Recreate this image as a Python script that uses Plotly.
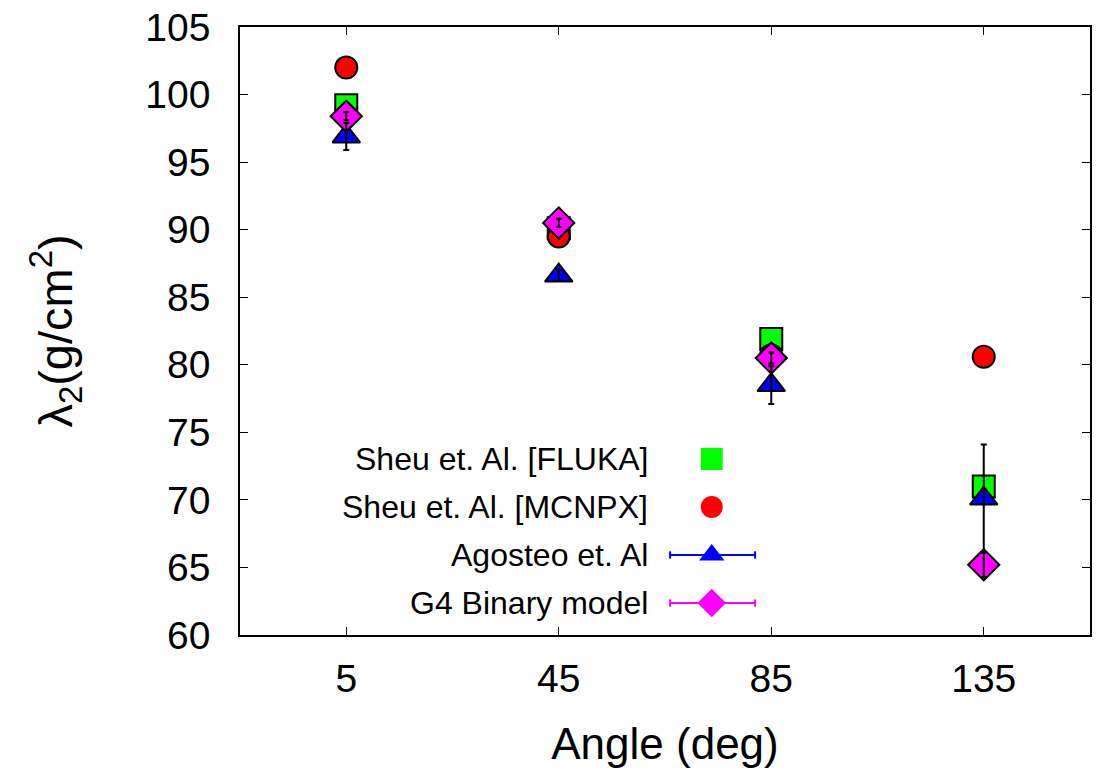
import plotly.graph_objects as go

categories = ["5", "45", "85", "135"]
fluka = [99.2, 90.1, 81.9, 71.0]
mcnpx = [102.0, 89.5, 80.7, 80.6]
agosteo = [96.9, 86.6, 78.5, 70.1]
agosteo_err = [1.0, 0.4, 1.4, 4.0]
g4 = [98.4, 90.5, 80.5, 65.2]
g4_err = [0.3, 0.3, 0.4, 0.9]
names = ["Sheu et. Al. [FLUKA]", "Sheu et. Al. [MCNPX]", "Agosteo et. Al", "G4 Binary model"]
colors = ["#00ff00", "#ff0000", "#0000ff", "#ff00ff"]
symbols = ["square", "circle", "triangle-up", "diamond"]

FONT = "Liberation Sans, Arial, Helvetica, sans-serif"
xpos = list(range(len(categories)))

fig = go.Figure()
series = [fluka, mcnpx, agosteo, g4]
sizes = [22, 22, 24, 24]
for vals, nm, col, sym, sz in zip(series, names, colors, symbols, sizes):
    fig.add_trace(go.Scatter(
        x=xpos, y=vals, mode="markers", name=nm, showlegend=False,
        marker=dict(symbol=sym, size=sz, color=col, line=dict(color="black", width=2)),
    ))

# error bars drawn on top of markers
for vals, err in [(agosteo, agosteo_err), (g4, g4_err)]:
    fig.add_trace(go.Scatter(
        x=xpos, y=vals, mode="markers", showlegend=False,
        marker=dict(size=1, opacity=0),
        error_y=dict(type="data", array=err, visible=True, color="black", thickness=2, width=3),
    ))

# manual legend (text left, sample right, like gnuplot)
leg_y_paper = [0.2895, 0.2105, 0.1316, 0.0526]
leg_x_text = 0.482
leg_x_mark = 0.555
for nm, yp in zip(names, leg_y_paper):
    fig.add_annotation(text=nm, xref="paper", yref="paper", x=leg_x_text, y=yp,
                       xanchor="right", yanchor="middle", showarrow=False,
                       font=dict(family=FONT, size=32, color="black"))
for col, yp in zip(colors[2:], leg_y_paper[2:]):
    fig.add_shape(type="line", xref="paper", yref="paper", x0=0.506, x1=0.606, y0=yp, y1=yp,
                  line=dict(color=col, width=2))
    for xc in (0.506, 0.606):
        fig.add_shape(type="line", xref="paper", yref="paper", x0=xc, x1=xc,
                      y0=yp - 0.006, y1=yp + 0.006, line=dict(color=col, width=2))
y0r, y1r = 60, 105
x0r, x1r = -0.5, 3.5
for col, sym, yp in zip(colors, symbols, leg_y_paper):
    fig.add_trace(go.Scatter(
        x=[x0r + leg_x_mark * (x1r - x0r)], y=[y0r + yp * (y1r - y0r)],
        mode="markers", showlegend=False, hoverinfo="skip",
        marker=dict(symbol=sym, size=22, color=col, line=dict(width=0)),
    ))

axis_common = dict(
    showline=True, linecolor="black", linewidth=1.5, mirror="ticks",
    ticks="inside", ticklen=8, tickwidth=1.2, tickcolor="black",
    showgrid=False, zeroline=False, automargin=False,
    tickfont=dict(family=FONT, size=39, color="black"),
)
fig.update_xaxes(range=[x0r, x1r], tickvals=xpos, ticktext=categories, ticklabelstandoff=8,
                 title=dict(text="Angle (deg)", font=dict(family=FONT, size=44, color="black"), standoff=30),
                 **axis_common)
fig.update_yaxes(range=[y0r, y1r], dtick=5, tick0=60, ticklabelstandoff=20,
                 title=dict(text="λ<sub>2</sub>(g/cm<sup>2</sup>)", font=dict(family=FONT, size=47, color="black"), standoff=58),
                 **axis_common)
fig.update_layout(
    width=1102, height=772,
    margin=dict(l=240, r=12, t=27, b=137),
    plot_bgcolor="white", paper_bgcolor="white",
    font=dict(family=FONT, color="black"),
)
fig.write_html("out.html")
